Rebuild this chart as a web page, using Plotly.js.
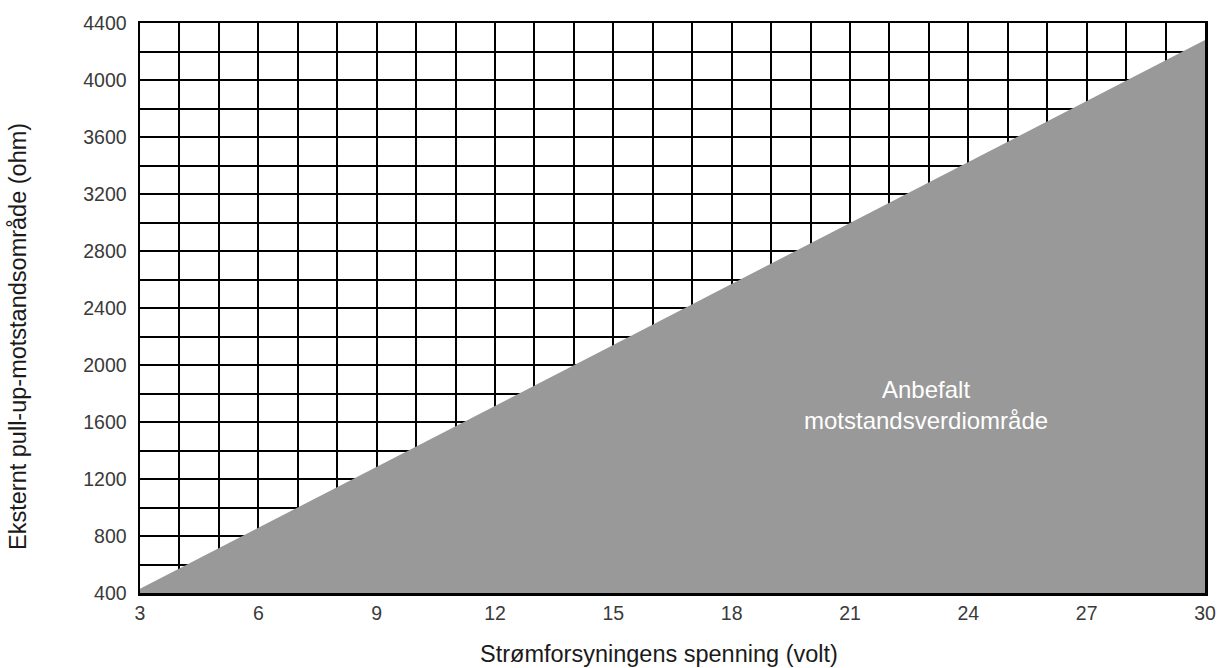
<!DOCTYPE html>
<html><head><meta charset="utf-8">
<script src="https://cdn.plot.ly/plotly-3.0.1.min.js"></script>
<style>html,body{margin:0;padding:0;background:#fff}#chart{width:1219px;height:668px}</style>
</head><body><div id="chart"></div>
<script>
const voltage = [3, 30];
const resistance = [430, 4280];
const xTicks = [3, 6, 9, 12, 15, 18, 21, 24, 27, 30];
const yTicks = [400, 800, 1200, 1600, 2000, 2400, 2800, 3200, 3600, 4000, 4400];
const labelText = "Anbefalt<br>motstandsverdiområde";
const labelPos = [22.93, 1720];
const xTitle = 'Strømforsyningens spenning (volt)';
const yTitle = 'Eksternt pull-up-motstandsområde (ohm)';

const font = "Liberation Sans, Arial, sans-serif";
const trace = {
  x: voltage, y: resistance, type: 'scatter', mode: 'lines',
  line: {width: 0, color: '#999999'}, fill: 'tozeroy', fillcolor: '#999999',
  hoverinfo: 'skip', showlegend: false
};
const layout = {
  width: 1219, height: 668,
  margin: {l: 140, r: 14, t: 23, b: 75},
  paper_bgcolor: '#fff', plot_bgcolor: '#fff',
  font: {family: font, color: '#222'},
  xaxis: {
    range: [3, 30], tickvals: xTicks, ticktext: xTicks.map(String),
    showgrid: true, gridcolor: '#000', gridwidth: 2,
    minor: {dtick: 1, tick0: 3, showgrid: true, gridcolor: '#000', gridwidth: 2},
    showline: true, linecolor: '#000', linewidth: 2.5, mirror: true,
    ticks: '', tickfont: {size: 19.5, color: '#3a3a3a'}, ticklabelstandoff: 1,
    zeroline: false
  },
  yaxis: {
    range: [400, 4400], tickvals: yTicks, ticktext: yTicks.map(String),
    showgrid: true, gridcolor: '#000', gridwidth: 2,
    minor: {dtick: 200, tick0: 400, showgrid: true, gridcolor: '#000', gridwidth: 2},
    showline: true, linecolor: '#000', linewidth: 2.5, mirror: true,
    ticks: '', tickfont: {size: 19.5, color: '#3a3a3a'}, ticklabelstandoff: 7,
    zeroline: false
  },
  annotations: [{
    x: labelPos[0], y: labelPos[1], xref: 'x', yref: 'y', text: labelText,
    showarrow: false, font: {size: 24, color: '#fff', family: font}, align: 'center'
  }, {
    x: 0.4873, y: -0.107, xref: 'paper', yref: 'paper', text: xTitle,
    xanchor: 'center', yanchor: 'middle', showarrow: false,
    font: {size: 23.5, color: '#1a1a1a', family: font}
  }, {
    x: -0.1146, y: 0.4509, xref: 'paper', yref: 'paper', text: yTitle, textangle: -90,
    xanchor: 'center', yanchor: 'middle', showarrow: false,
    font: {size: 23.5, color: '#1a1a1a', family: font}
  }]
};
Plotly.newPlot('chart', [trace], layout, {displayModeBar: false, staticPlot: true});
</script></body></html>
